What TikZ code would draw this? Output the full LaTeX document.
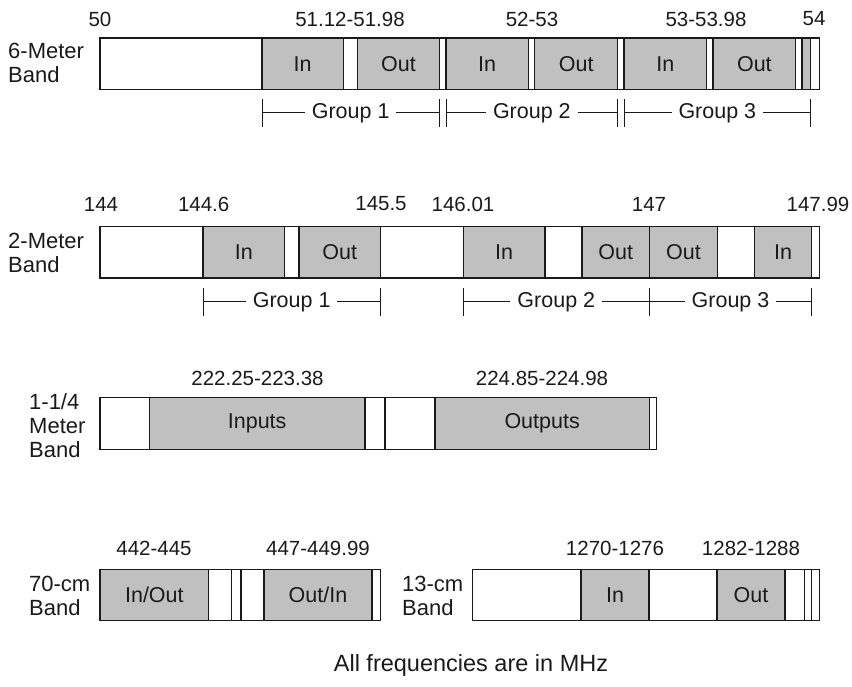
\documentclass[tikz,border=0pt]{standalone}
\usepackage{fontspec}
\setmainfont{Liberation Sans}
\usetikzlibrary{calc}
\definecolor{bandgray}{HTML}{C0C0C0}
\definecolor{inkc}{HTML}{1A1A1A}
\tikzset{
  seg/.style={draw=inkc, line width=1.3pt, inner sep=0pt, outer sep=0pt, text=inkc,
    font=\fontsize{21.5}{24}\selectfont},
  lbl/.style={inner sep=0pt, text=inkc, font=\fontsize{20.5}{24}\selectfont},
  bandlbl/.style={inner sep=0pt, text=inkc, font=\fontsize{22}{24}\selectfont, anchor=west, align=left},
  grp/.style={fill=white, inner xsep=7pt, inner ysep=1pt, text=inkc, font=\fontsize{21.5}{24}\selectfont},
  notelbl/.style={inner sep=0pt, text=inkc, font=\fontsize{23.5}{26}\selectfont},
  brk/.style={draw=inkc, line width=1pt},
}
\newcommand\segm[7]{%
  \node[seg, fill=#6, minimum width={(#3-#2)*1pt}, minimum height={(#5-#4)*1pt}]
    (#1) at ({(#2+#3)/2},{(#4+#5)/2}) {#7};}
\newcommand\grpbr[5]{%
  \coordinate (#1l) at (#2,#4);
  \coordinate (#1r) at (#3,#4);
  \draw[brk] (#1l) -- (#1r);
  \draw[brk] ([yshift=14pt]#1l) -- ([yshift=-14pt]#1l);
  \draw[brk] ([yshift=14pt]#1r) -- ([yshift=-14pt]#1r);
  \node[grp] (#1t) at ($(#1l)!0.5!(#1r)$) {#5};}
\begin{document}
\begin{tikzpicture}[x=1pt,y=-1pt]
\useasboundingbox (0,0) rectangle (852,687);

% ---------- 6-Meter band ----------
\node[bandlbl] (b6) at (8,62.5) {6-Meter\\Band};
\segm{s6a}{100}{262}{38}{89.5}{white}{}
\segm{s6b}{262}{343.3}{38}{89.5}{bandgray}{In}
\segm{s6c}{343.3}{357.7}{38}{89.5}{white}{}
\segm{s6d}{357.7}{439.3}{38}{89.5}{bandgray}{Out}
\segm{s6e}{439.3}{446}{38}{89.5}{white}{}
\segm{s6f}{446}{528.3}{38}{89.5}{bandgray}{In}
\segm{s6g}{528.3}{534.7}{38}{89.5}{white}{}
\segm{s6h}{534.7}{617.7}{38}{89.5}{bandgray}{Out}
\segm{s6i}{617.7}{624}{38}{89.5}{white}{}
\segm{s6j}{624}{706.7}{38}{89.5}{bandgray}{In}
\segm{s6k}{706.7}{713}{38}{89.5}{white}{}
\segm{s6l}{713}{795.7}{38}{89.5}{bandgray}{Out}
\segm{s6m}{795.7}{802}{38}{89.5}{white}{}
\segm{s6n}{802}{810.7}{38}{89.5}{bandgray}{}
\segm{s6o}{810.7}{819.3}{38}{89.5}{white}{}
\node[lbl] (f50) at (100,19) {50};
\node[lbl] (f51) at (350,19) {51.12-51.98};
\node[lbl] (f52) at (532,19) {52-53};
\node[lbl] (f53) at (706,19) {53-53.98};
\node[lbl] (f54) at (814,19) {54};
\grpbr{g6a}{262}{439.3}{113}{Group 1}
\grpbr{g6b}{446}{617.7}{113}{Group 2}
\grpbr{g6c}{624}{810.7}{113}{Group 3}

% ---------- 2-Meter band ----------
\node[bandlbl] (b2) at (8,253) {2-Meter\\Band};
\segm{s2a}{100}{203}{226.7}{278}{white}{}
\segm{s2b}{203}{284.7}{226.7}{278}{bandgray}{In}
\segm{s2c}{284.7}{299}{226.7}{278}{white}{}
\segm{s2d}{299}{380.3}{226.7}{278}{bandgray}{Out}
\segm{s2e}{380.3}{463.3}{226.7}{278}{white}{}
\segm{s2f}{463.3}{545}{226.7}{278}{bandgray}{In}
\segm{s2g}{545}{582}{226.7}{278}{white}{}
\segm{s2h}{582}{649.3}{226.7}{278}{bandgray}{Out}
\segm{s2i}{649.3}{717.7}{226.7}{278}{bandgray}{Out}
\segm{s2j}{717.7}{754.7}{226.7}{278}{white}{}
\segm{s2k}{754.7}{811.7}{226.7}{278}{bandgray}{In}
\segm{s2l}{811.7}{819.3}{226.7}{278}{white}{}
\node[lbl] (f144) at (101,204) {144};
\node[lbl] (f1446) at (203.7,204) {144.6};
\node[lbl] (f1455) at (381,204) {145.5};
\node[lbl] (f14601) at (463,204) {146.01};
\node[lbl] (f147) at (649,204) {147};
\node[lbl] (f14799) at (818,204) {147.99};
\grpbr{g2a}{203}{380.3}{302}{Group 1}
\grpbr{g2b}{463.3}{649.3}{302}{Group 2}
\grpbr{g2c}{649.3}{811.7}{302}{Group 3}

% ---------- 1-1/4 Meter band ----------
\node[bandlbl] (b125) at (29,425.5) {1-1/4\\Meter\\Band};
\segm{s1a}{100}{149.3}{397.7}{449.3}{white}{}
\segm{s1b}{149.3}{365}{397.7}{449.3}{bandgray}{Inputs}
\segm{s1c}{365}{385}{397.7}{449.3}{white}{}
\segm{s1d}{385}{435}{397.7}{449.3}{white}{}
\segm{s1e}{435}{649.3}{397.7}{449.3}{bandgray}{Outputs}
\segm{s1f}{649.3}{656.7}{397.7}{449.3}{white}{}
\node[lbl] (f222) at (257.5,378) {222.25-223.38};
\node[lbl] (f224) at (542,378) {224.85-224.98};

% ---------- 70-cm band ----------
\node[bandlbl] (b70) at (29,595.5) {70-cm\\Band};
\segm{s7a}{100}{208.7}{569.3}{620.7}{bandgray}{In/Out}
\segm{s7b}{208.7}{231.7}{569.3}{620.7}{white}{}
\segm{s7c}{231.7}{241}{569.3}{620.7}{white}{}
\segm{s7d}{241}{264}{569.3}{620.7}{white}{}
\segm{s7e}{264}{372}{569.3}{620.7}{bandgray}{Out/In}
\segm{s7f}{372}{380.3}{569.3}{620.7}{white}{}
\node[lbl] (f442) at (154,548) {442-445};
\node[lbl] (f447) at (318,548) {447-449.99};

% ---------- 13-cm band ----------
\node[bandlbl] (b13) at (402,595.5) {13-cm\\Band};
\segm{s3a}{472.7}{581}{569.3}{620.7}{white}{}
\segm{s3b}{581}{649}{569.3}{620.7}{bandgray}{In}
\segm{s3c}{649}{717}{569.3}{620.7}{white}{}
\segm{s3d}{717}{785}{569.3}{620.7}{bandgray}{Out}
\segm{s3e}{785}{804.3}{569.3}{620.7}{white}{}
\segm{s3f}{804.3}{811.7}{569.3}{620.7}{white}{}
\segm{s3g}{811.7}{819.3}{569.3}{620.7}{white}{}
\node[lbl] (f1270) at (615,548) {1270-1276};
\node[lbl] (f1282) at (751,548) {1282-1288};

% ---------- footer ----------
\node[notelbl] (note) at (471,665) {All frequencies are in MHz};
\end{tikzpicture}
\end{document}
